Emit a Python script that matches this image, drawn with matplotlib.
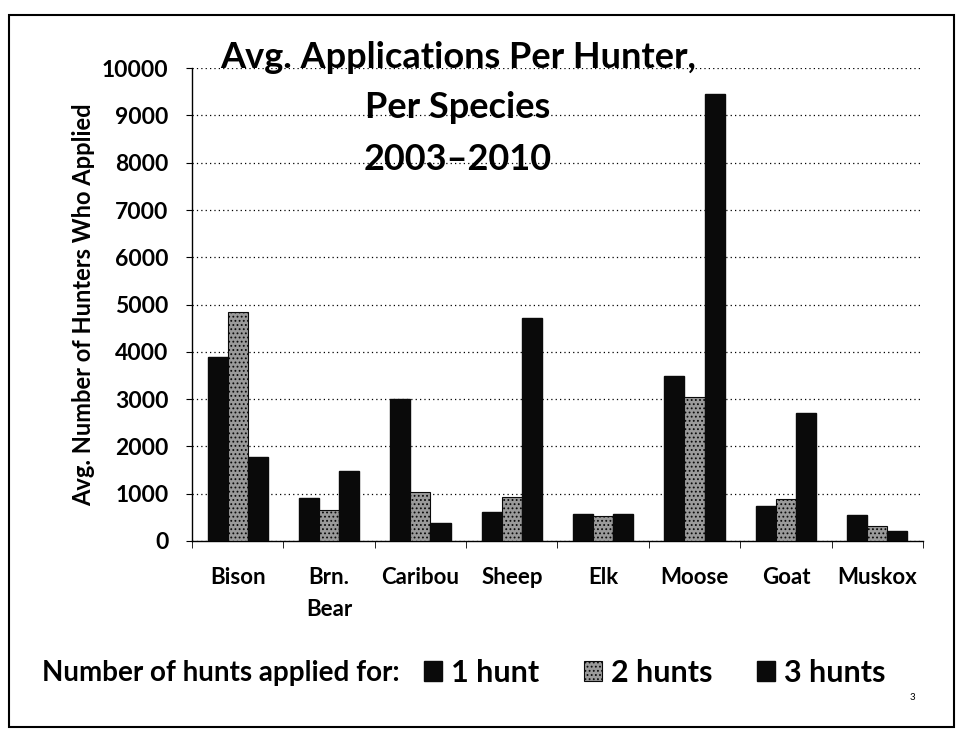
import matplotlib
matplotlib.use("Agg")
import matplotlib.pyplot as plt
import numpy as np
from matplotlib.patches import Rectangle

categories = ["Bison", "Brn.\nBear", "Caribou", "Sheep", "Elk", "Moose", "Goat", "Muskox"]
hunt1 = [3900, 900, 3000, 610, 560, 3480, 740, 550]
hunt2 = [4850, 650, 1030, 920, 520, 3050, 880, 320]
hunt3 = [1780, 1480, 370, 4720, 560, 9450, 2700, 210]
series_labels = ["1 hunt", "2 hunts", "3 hunts"]
title_lines = ["Avg. Applications Per Hunter,", "Per Species", "2003\u20132010"]
yticks = list(range(0, 10001, 1000))

plt.rcParams['font.family'] = ['Lato', 'DejaVu Sans']
plt.rcParams['hatch.color'] = '#222222'
plt.rcParams['hatch.linewidth'] = 0.8

fig = plt.figure(figsize=(9.63, 7.33), dpi=100)
fig.patch.set_facecolor('white')
# slide frame
fig.add_artist(Rectangle((0.009, 0.008), 0.982, 0.972, transform=fig.transFigure,
                         fill=False, edgecolor='black', linewidth=1.5))

ax = fig.add_axes([0.1994, 0.262, 0.759, 0.645])
x = np.arange(len(categories))
w = 0.22
b1 = ax.bar(x - w, hunt1, w, color='#0a0a0a', edgecolor='#0a0a0a', label=series_labels[0], zorder=3)
b2 = ax.bar(x, hunt2, w, color='#9a9a9a', edgecolor='#0a0a0a', hatch='....', linewidth=0.8,
            label=series_labels[1], zorder=3)
b3 = ax.bar(x + w, hunt3, w, color='#0a0a0a', edgecolor='#0a0a0a', label=series_labels[2], zorder=3)

ax.set_xlim(-0.5, len(categories) - 0.5)
ax.set_ylim(0, 10000)
ax.set_yticks(yticks)
ax.set_yticklabels([str(v) for v in yticks], fontsize=16.5, fontweight='bold')
ax.yaxis.grid(True, linestyle=(0, (1, 2.5)), color='black', linewidth=0.9, zorder=0)
ax.set_xticks(x)
ax.set_xticklabels(categories, fontsize=16, fontweight='bold', linespacing=1.6, va='top')
ax.tick_params(axis='x', length=0, pad=19)
ax.set_xticks(np.arange(-0.5, len(categories), 1), minor=True)
ax.tick_params(axis='x', which='minor', length=5, color='black', direction='out')
ax.tick_params(axis='y', length=4, direction='out', pad=13)
for s in ['top', 'right']:
    ax.spines[s].set_visible(False)
ax.spines['left'].set_linewidth(1.0)
ax.spines['bottom'].set_linewidth(1.0)
ax.spines['bottom'].set_linestyle((0, (1, 1)))
ax.set_ylabel("Avg. Number of Hunters Who Applied", fontsize=17, fontweight='bold', labelpad=5)

for ty, line in zip([1.0, 0.894, 0.784], title_lines):
    ax.text(0.364, ty, line, transform=ax.transAxes, ha='center', va='baseline',
            fontsize=26, fontweight='bold', zorder=5)

fig.text(0.044, 0.082, "Number of hunts applied for:", fontsize=20, fontweight='bold', va='center')
fig.legend(handles=[b1, b2, b3], labels=series_labels, loc='center left',
           bbox_to_anchor=(0.44, 0.082), ncol=3, frameon=False,
           prop={'weight': 'bold', 'size': 22}, handlelength=0.6, handleheight=0.6,
           handletextpad=0.3, columnspacing=1.45, borderpad=0, borderaxespad=0)
fig.text(0.945, 0.045, "3", fontsize=7)

fig.savefig("out.png", dpi=100, facecolor='white')
